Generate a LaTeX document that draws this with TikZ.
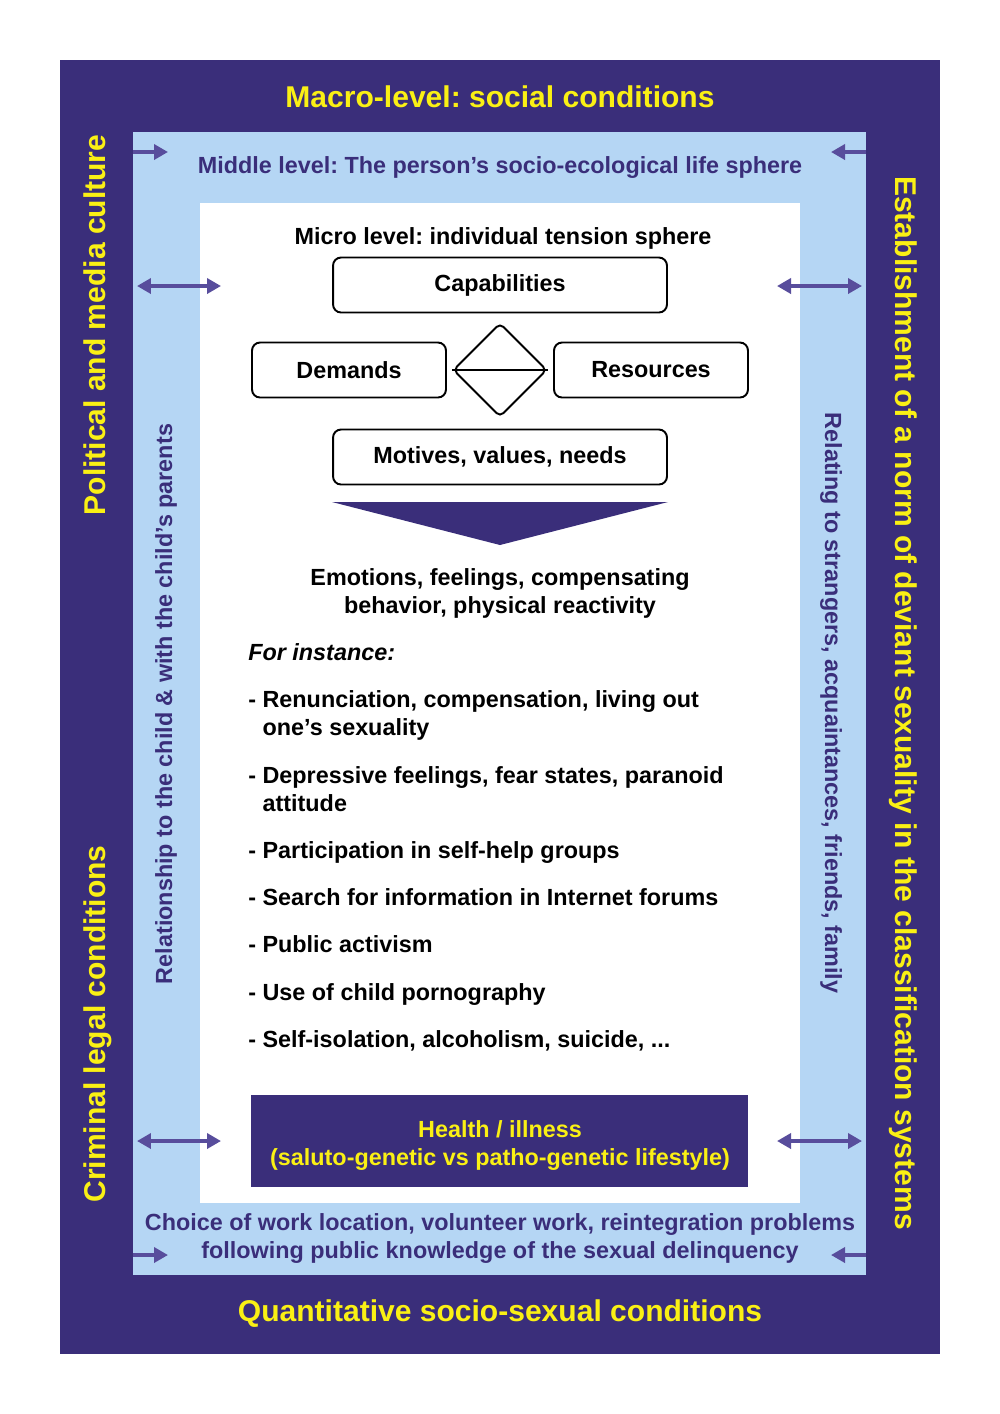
\documentclass[tikz,border=0pt]{standalone}
\usepackage{fontspec}
\setmainfont{Liberation Sans}
\usetikzlibrary{arrows.meta,shapes.geometric}
\frenchspacing

\definecolor{macroblue}{RGB}{58,46,122}
\definecolor{middleblue}{RGB}{181,214,244}
\definecolor{arrowblue}{RGB}{88,77,156}
\definecolor{labelyellow}{RGB}{250,240,20}

\newcommand{\normsize}{\fontsize{13.3}{15.9}\selectfont}
\newcommand{\largesize}{\fontsize{17.1}{20}\selectfont}

\begin{document}
\begin{tikzpicture}[x=0.02cm,y=-0.02cm]
\tikzstyle{every node}=[inner sep=0pt, font=\normsize\bfseries]
\tikzstyle{levelbox}=[draw=black, line width=1.1pt, rounded corners=0.16cm, minimum height=1.1cm]
\tikzstyle{outertext}=[text=labelyellow, font=\largesize\bfseries, anchor=base]
\tikzstyle{middletext}=[text=macroblue, anchor=base]
\tikzstyle{itemtext}=[anchor=base west, align=left]
\tikzstyle{link}=[draw=arrowblue, line width=2.2pt, -{Triangle[length=0.28cm,width=0.3cm]}]
\tikzstyle{twolink}=[draw=arrowblue, line width=2.2pt, {Triangle[length=0.28cm,width=0.3cm]}-{Triangle[length=0.28cm,width=0.3cm]}]

\useasboundingbox (0,0) rectangle (1000,1414);
\fill[white] (0,0) rectangle (1000,1414);

% the three levels
\fill[macroblue] (60,60) rectangle (940,1354);
\fill[middleblue] (133,132) rectangle (866,1275);
\fill[white] (200,203) rectangle (800,1203);

% macro level
\draw (500,107) node[outertext] (macro) {Macro-level: social conditions};
\draw (500,1321) node[outertext] (quant) {Quantitative socio-sexual conditions};
\draw (105,325) node[outertext, rotate=90] (polit) {Political and media culture};
\draw (105,1024) node[outertext, rotate=90] (crim) {Criminal legal conditions};
\draw (895,703) node[outertext, rotate=-90] (norm) {Establishment of a norm of deviant sexuality in the classification systems};

% middle level
\draw (500,173) node[middletext] (middle) {Middle level: The person’s socio-ecological life sphere};
\draw (172,704) node[middletext, rotate=90] (parents) {Relationship to the child \& with the child’s parents};
\draw (825,703) node[middletext, rotate=-90] (strangers) {Relating to strangers, acquaintances, friends, family};
\draw (500,1258) node[middletext, align=center] (work) {Choice of work location, volunteer work, reintegration problems\\following public knowledge of the sexual delinquency};

% micro level
\draw (503,244) node[anchor=base] (micro) {Micro level: individual tension sphere};
\draw (500,285) node[levelbox, minimum width=6.68cm] (capab) {Capabilities};
\draw (349,370) node[levelbox, minimum width=3.88cm] (demand) {Demands};
\draw (651,370) node[levelbox, minimum width=3.88cm] (resource) {Resources};
\draw (500,457) node[levelbox, minimum width=6.68cm] (motive) {Motives, values, needs};
\draw (500,370) node[draw=black, line width=1.1pt, diamond, rounded corners=0.1cm, minimum width=1.88cm, minimum height=1.88cm] (tension) {};
\draw[line width=1.1pt] (tension.west) -- (tension.east);
\fill[macroblue] (332,502) -- (668,502) -- (500,545) -- cycle;

\draw (500,613) node[anchor=base, align=center] (emotion) {Emotions, feelings, compensating\\behavior, physical reactivity};
\draw (248,660) node[itemtext] (instance) {\itshape For instance:};
\draw (248,735) node[itemtext] (item1) {- Renunciation, compensation, living out\\\phantom{- }one’s sexuality};
\draw (248,811) node[itemtext] (item2) {- Depressive feelings, fear states, paranoid\\\phantom{- }attitude};
\draw (248,858) node[itemtext] (item3) {- Participation in self-help groups};
\draw (248,905) node[itemtext] (item4) {- Search for information in Internet forums};
\draw (248,952) node[itemtext] (item5) {- Public activism};
\draw (248,1000) node[itemtext] (item6) {- Use of child pornography};
\draw (248,1047) node[itemtext] (item7) {- Self-isolation, alcoholism, suicide, ...};

\draw (251,1095) node[fill=macroblue, anchor=north west, minimum width=9.94cm, minimum height=1.84cm] (health) {};
\draw (500,1165) node[anchor=base, align=center, text=labelyellow] (healthtext) {Health / illness\\(saluto-genetic vs patho-genetic lifestyle)};

% arrows between the levels
\coordinate (tl1) at (133,152); \coordinate (tl2) at (168,152);
\coordinate (tr1) at (866,152); \coordinate (tr2) at (831,152);
\coordinate (bl1) at (133,1255); \coordinate (bl2) at (168,1255);
\coordinate (br1) at (866,1255); \coordinate (br2) at (831,1255);
\coordinate (ul1) at (137,286); \coordinate (ul2) at (221,286);
\coordinate (ur1) at (777,286); \coordinate (ur2) at (862,286);
\coordinate (dl1) at (137,1141); \coordinate (dl2) at (221,1141);
\coordinate (dr1) at (777,1141); \coordinate (dr2) at (862,1141);

\draw[link] (tl1) -- (tl2);
\draw[link] (tr1) -- (tr2);
\draw[link] (bl1) -- (bl2);
\draw[link] (br1) -- (br2);
\draw[twolink] (ul1) -- (ul2);
\draw[twolink] (ur1) -- (ur2);
\draw[twolink] (dl1) -- (dl2);
\draw[twolink] (dr1) -- (dr2);

\end{tikzpicture}
\end{document}
